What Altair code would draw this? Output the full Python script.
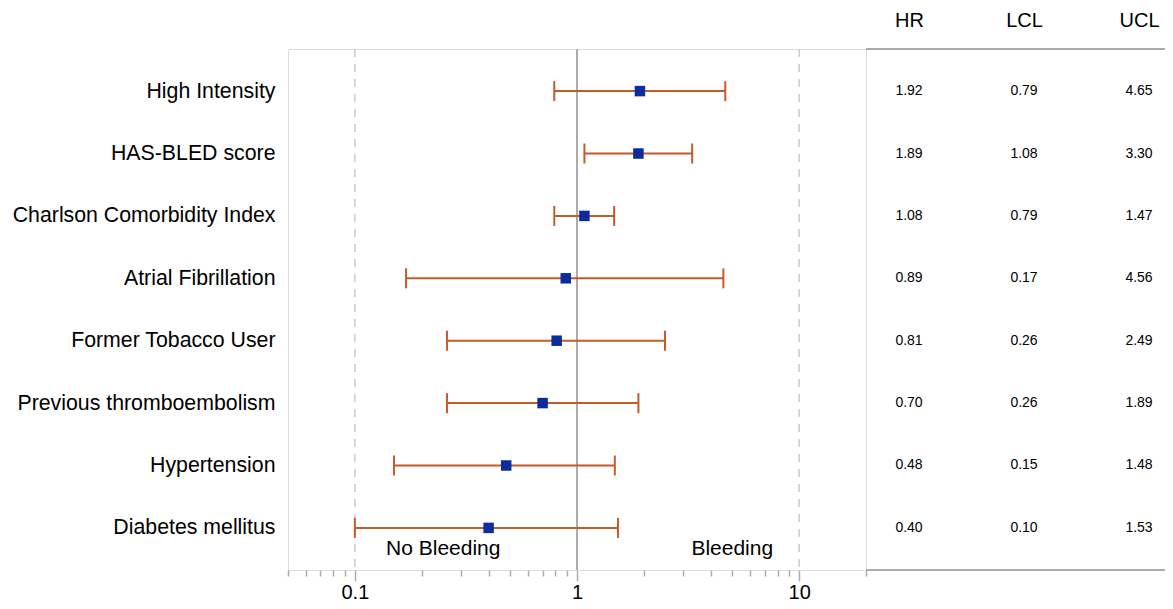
import altair as alt
import pandas as pd

# ---------------- data ----------------
labels = [
    "High Intensity",
    "HAS-BLED score",
    "Charlson Comorbidity Index",
    "Atrial Fibrillation",
    "Former Tobacco User",
    "Previous thromboembolism",
    "Hypertension",
    "Diabetes mellitus",
]
hr = [1.92, 1.89, 1.08, 0.89, 0.81, 0.70, 0.48, 0.40]
lcl = [0.79, 1.08, 0.79, 0.17, 0.26, 0.26, 0.15, 0.10]
ucl = [4.65, 3.30, 1.47, 4.56, 2.49, 1.89, 1.48, 1.53]

stat_cols = ["HR", "LCL", "UCL"]
axis_ticks = [0.05, 0.06, 0.07, 0.08, 0.09, 0.1, 0.2, 0.3, 0.4, 0.5, 0.6, 0.7,
              0.8, 0.9, 1, 2, 3, 4, 5, 6, 7, 8, 9, 10, 20]
major_ticks = [0.1, 1, 10]
dashed_refs = [0.1, 10]
solid_ref = [1]
region_text = ["No Bleeding", "Bleeding"]
region_x = [0.25, 5.0]
region_row = "Diabetes mellitus"

df = pd.DataFrame({"label": labels, "HR": hr, "LCL": lcl, "UCL": ucl})

# ---------------- style ----------------
FONT = "Liberation Sans"
FRAME = "#A9ADB1"
DASH = "#C8CACC"
ORANGE = "#C55A2A"
BLUE = "#0B2C9F"
W, H = 578, 521

major_list = "[" + ",".join(str(v) for v in major_ticks) + "]"
major_test = f"indexof({major_list}, datum.value) >= 0"

xscale = alt.Scale(type="log", domain=[0.05, 20], nice=False)
yscale = alt.Scale(type="point", padding=0.675)

x_axis = alt.Axis(
    values=axis_ticks, title=None, grid=False, domain=False, format="~g",
    labelExpr=f"{major_test} ? datum.label : ''",
    labelFont=FONT, labelFontSize=20, labelColor="black", labelPadding=1,
    tickColor=FRAME, tickWidth=1.5,
    tickSize={"condition": {"test": major_test, "value": 11}, "value": 6},
)
y_enc = alt.Y(
    "label:N", sort=labels, scale=yscale,
    axis=alt.Axis(title=None, domain=False, ticks=False, labelFont=FONT,
                  labelFontSize=21.3, labelColor="black", labelPadding=13,
                  labelLimit=500),
)

base = alt.Chart(df)

dashed = alt.Chart(pd.DataFrame({"v": dashed_refs})).mark_rule(
    color=DASH, strokeDash=[8, 7], strokeWidth=1.5
).encode(x=alt.X("v:Q", scale=xscale, axis=x_axis))

solid = alt.Chart(pd.DataFrame({"v": solid_ref})).mark_rule(
    color=FRAME, strokeWidth=2
).encode(x=alt.X("v:Q", scale=xscale, axis=x_axis))

ci = base.mark_rule(color=ORANGE, strokeWidth=2).encode(
    x=alt.X("LCL:Q", scale=xscale, axis=x_axis), x2="UCL:Q", y=y_enc
)

caps = base.transform_fold(["LCL", "UCL"], as_=["end", "v"]).mark_tick(
    color=ORANGE, thickness=2, size=20, orient="vertical", opacity=1
).encode(x=alt.X("v:Q", scale=xscale, axis=x_axis), y=y_enc)

squares = base.mark_square(color=BLUE, size=110, opacity=1, filled=True).encode(
    x=alt.X("HR:Q", scale=xscale, axis=x_axis), y=y_enc
)

regions = alt.Chart(
    pd.DataFrame({"t": region_text, "x": region_x, "label": [region_row] * len(region_text)})
).mark_text(font=FONT, fontSize=21, color="black", dy=21).encode(
    x=alt.X("x:Q", scale=xscale, axis=x_axis), y=y_enc, text="t:N"
)

one = pd.DataFrame({"a": [0]})
top_line = alt.Chart(one).mark_rule(color=FRAME, strokeWidth=2).encode(
    x=alt.value(W), x2=alt.value(W + 330), y=alt.value(0)
)
bottom_line = alt.Chart(one).mark_rule(color=FRAME, strokeWidth=2).encode(
    x=alt.value(W), x2=alt.value(W + 330), y=alt.value(H)
)

forest = alt.layer(dashed, solid, ci, caps, squares, regions, top_line, bottom_line)

table = base.transform_fold(stat_cols, as_=["stat", "val"]).mark_text(
    font=FONT, fontSize=14, color="black"
).encode(
    x=alt.X(
        "stat:N", sort=stat_cols,
        scale=alt.Scale(type="point", domain=stat_cols, range=[621, 851], padding=0),
        axis=alt.Axis(orient="top", title=None, domain=False, ticks=False,
                      labelFont=FONT, labelFontSize=20, labelColor="black",
                      labelPadding=19, labelAngle=0),
    ),
    y=y_enc,
    text=alt.Text("val:Q", format=".2f"),
)

chart = alt.layer(forest, table).resolve_scale(x="independent").resolve_axis(
    x="independent"
).properties(
    width=W, height=H,
    autosize=alt.AutoSizeParams(type="none"),
    padding={"left": 280, "top": 41, "right": 299, "bottom": 31},
).configure_view(stroke=FRAME, strokeWidth=2).configure(background="white")

chart.save("out.html", embed_options={"renderer": "svg", "actions": False})
